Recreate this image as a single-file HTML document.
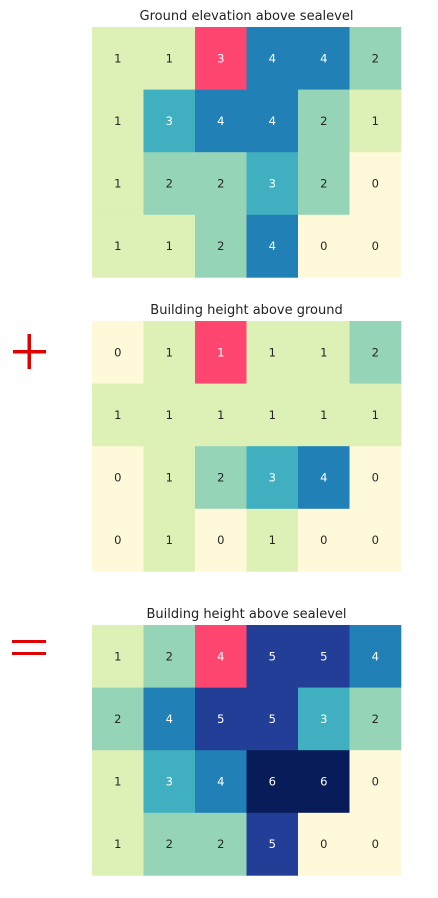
<!DOCTYPE html>
<html><head><meta charset="utf-8"><style>
body{margin:0;background:#fff;width:438px;height:894px;overflow:hidden;font-family:"DejaVu Sans","Liberation Sans",sans-serif}
</style></head><body>
<svg id="svg" width="438" height="894">
<g><rect x="13" y="350" width="33" height="3.5" fill="#e00000"/><rect x="27.5" y="334" width="3.5" height="35" fill="#e00000"/></g>
<g><rect x="12" y="640" width="34" height="3" fill="#e00000"/><rect x="12" y="652" width="34" height="3" fill="#e00000"/></g>
</svg>
<script>
const titles=["Ground elevation above sealevel","Building height above ground","Building height above sealevel"];
const ground=[[1,1,3,4,4,2],[1,3,4,4,2,1],[1,2,2,3,2,0],[1,1,2,4,0,0]];
const building=[[0,1,1,1,1,2],[1,1,1,1,1,1],[0,1,2,3,4,0],[0,1,0,1,0,0]];
const total=[[1,2,4,5,5,4],[2,4,5,5,3,2],[1,3,4,6,6,0],[1,2,2,5,0,0]];
const highlight=[[0,2],[0,2],[0,2]];
const grids=[ground,building,total];
const tops=[27,321,625];
const colors=["#fef9d8","#ddf0b5","#96d4b8","#40b0c1","#2180b5","#233e97","#071c58"];
const svg=document.getElementById('svg');const NS="http://www.w3.org/2000/svg";
const x0=92,cw=51.5,ch=62.6;
grids.forEach((g,k)=>{
  const grp=document.createElementNS(NS,'g');
  
  
  svg.appendChild(grp);
  const t=document.createElementNS(NS,'text');
  t.setAttribute('x',246.5);t.setAttribute('y',tops[k]-7);t.setAttribute('text-anchor','middle');t.setAttribute('font-size','13');t.setAttribute('fill','#222');
  t.textContent=titles[k];
  
  
  grp.appendChild(t);
  g.forEach((row,r)=>row.forEach((v,c)=>{
    const hl=highlight[k][0]===r&&highlight[k][1]===c;
    const rc=document.createElementNS(NS,'rect');
    rc.setAttribute('x',x0+c*cw);rc.setAttribute('y',tops[k]+r*ch);rc.setAttribute('width',cw+0.3);rc.setAttribute('height',ch+0.3);
    rc.setAttribute('fill',hl?'#ff4670':colors[v]);
    
    
    grp.appendChild(rc);
    const tx=document.createElementNS(NS,'text');
    tx.setAttribute('x',x0+c*cw+cw/2);tx.setAttribute('y',tops[k]+r*ch+ch/2+4);tx.setAttribute('text-anchor','middle');tx.setAttribute('font-size','11.5');
    tx.setAttribute('fill',(hl||v>=3)?'#fff':'#262626');
    tx.textContent=v;
    
    
    grp.appendChild(tx);
  }));
});
</script>
</body></html>
